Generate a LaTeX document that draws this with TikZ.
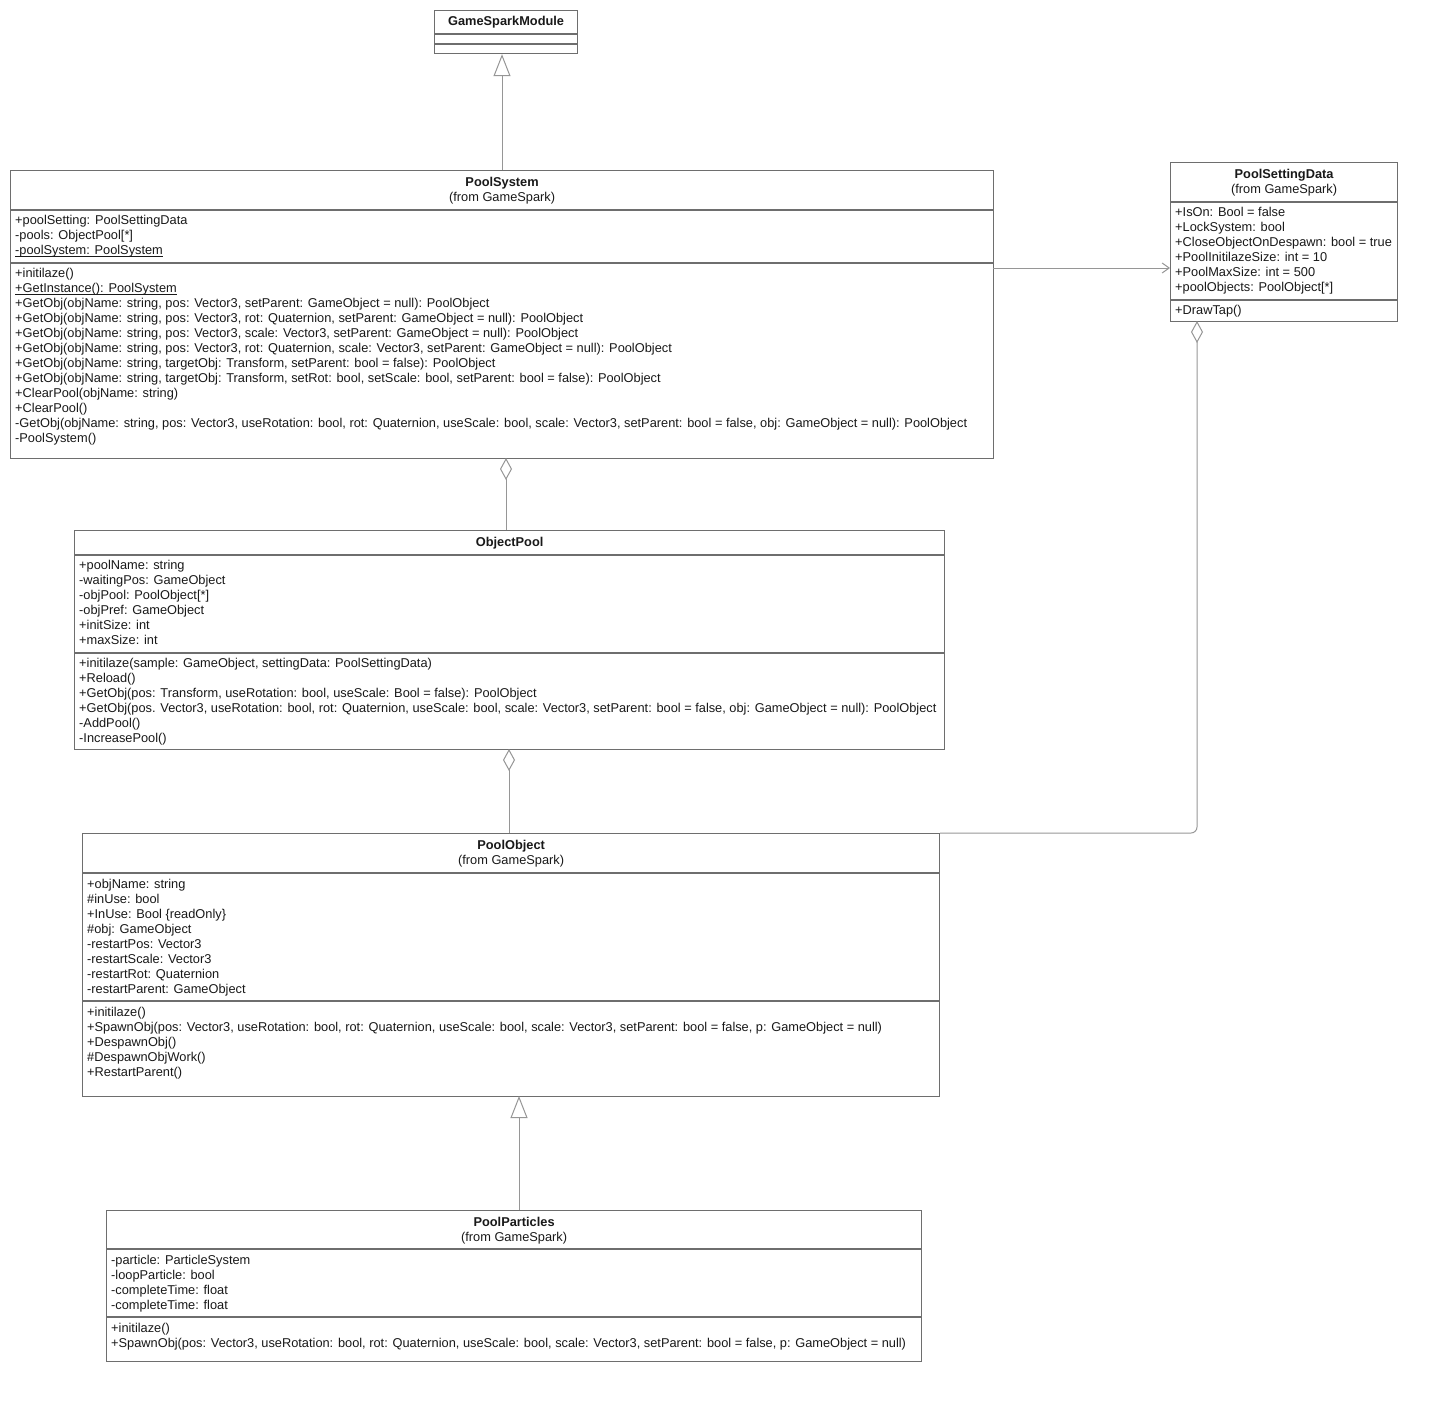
\documentclass[tikz,border=0pt]{standalone}
\usepackage{fontspec}
\setmainfont{Liberation Sans}
\usetikzlibrary{arrows.meta,positioning}
\definecolor{BoxLine}{RGB}{110,110,110}
\definecolor{LinkLine}{RGB}{150,150,150}
\definecolor{TextGray}{RGB}{25,25,25}

% static members are underlined close to the baseline
\newcommand{\staticmem}[1]{\setbox0\hbox{#1}\rlap{\rule[-1.6pt]{\wd0}{0.7pt}}\box0}

\tikzset{
	classbox/.style={draw=BoxLine, line width=1.2pt, fill=white, anchor=north west, inner sep=0pt},
	classname/.style={font=\fontsize{12.8}{15}\selectfont, align=center, text=TextGray, inner sep=0pt},
	members/.style={font=\fontsize{12.8}{15}\selectfont, align=left, anchor=north west, text=TextGray, inner sep=0pt},
	sepline/.style={draw=BoxLine, line width=1.2pt},
	link/.style={draw=LinkLine, line width=1pt},
	realize/.style={link, -{Triangle[open, length=22pt, width=17pt, fill=white]}},
	aggr/.style={link, {Diamond[open, length=22pt, width=12pt, fill=white]}-},
	assoc/.style={link, -{Straight Barb[length=7pt, width=10pt]}}
}

\begin{document}
\begin{tikzpicture}[x=1pt, y=-1pt]
	\useasboundingbox (0,0) rectangle (1437,1402);

	% class boxes
	\node[classbox, minimum width=143pt, minimum height=43pt] (gsm) at (434,10) {};
	\node[classbox, minimum width=983pt, minimum height=288pt] (psys) at (10,170) {};
	\node[classbox, minimum width=227pt, minimum height=159pt] (psd) at (1170,162) {};
	\node[classbox, minimum width=870pt, minimum height=219pt] (opool) at (74,530) {};
	\node[classbox, minimum width=857pt, minimum height=263pt] (pobj) at (82,833) {};
	\node[classbox, minimum width=815pt, minimum height=151pt] (ppart) at (106,1210) {};

	% compartments
	\draw[sepline] (gsm.west |- 0,34) -- (gsm.east |- 0,34);
	\draw[sepline] (gsm.west |- 0,44) -- (gsm.east |- 0,44);
	\draw[sepline] (psys.west |- 0,210) -- (psys.east |- 0,210);
	\draw[sepline] (psys.west |- 0,263) -- (psys.east |- 0,263);
	\draw[sepline] (psd.west |- 0,202) -- (psd.east |- 0,202);
	\draw[sepline] (psd.west |- 0,300) -- (psd.east |- 0,300);
	\draw[sepline] (opool.west |- 0,555) -- (opool.east |- 0,555);
	\draw[sepline] (opool.west |- 0,653) -- (opool.east |- 0,653);
	\draw[sepline] (pobj.west |- 0,873) -- (pobj.east |- 0,873);
	\draw[sepline] (pobj.west |- 0,1001) -- (pobj.east |- 0,1001);
	\draw[sepline] (ppart.west |- 0,1249) -- (ppart.east |- 0,1249);
	\draw[sepline] (ppart.west |- 0,1317) -- (ppart.east |- 0,1317);

	% names
	\node[classname] (gsmName) at (gsm.north |- 0,22.5) {\textbf{GameSparkModule}};
	\node[classname] (psysName) at (psys.north |- 0,191) {\textbf{PoolSystem}\\(from GameSpark)};
	\node[classname] (psdName) at (psd.north |- 0,183) {\textbf{PoolSettingData}\\(from GameSpark)};
	\node[classname] (opoolName) at (opool.north |- 0,543) {\textbf{ObjectPool}};
	\node[classname] (pobjName) at (pobj.north |- 0,854) {\textbf{PoolObject}\\(from GameSpark)};
	\node[classname] (ppartName) at (ppart.north |- 0,1230.5) {\textbf{PoolParticles}\\(from GameSpark)};

	% members
	\node[members] (psysAttr) at (15,215.5) {+poolSetting: PoolSettingData\\
		-pools: ObjectPool[*]\\
		\staticmem{-poolSystem: PoolSystem}};
	\node[members] (psysOps) at (15,268.5) {+initilaze()\\
		\staticmem{+GetInstance(): PoolSystem}\\
		+GetObj(objName: string, pos: Vector3, setParent: GameObject = null): PoolObject\\
		+GetObj(objName: string, pos: Vector3, rot: Quaternion, setParent: GameObject = null): PoolObject\\
		+GetObj(objName: string, pos: Vector3, scale: Vector3, setParent: GameObject = null): PoolObject\\
		+GetObj(objName: string, pos: Vector3, rot: Quaternion, scale: Vector3, setParent: GameObject = null): PoolObject\\
		+GetObj(objName: string, targetObj: Transform, setParent: bool = false): PoolObject\\
		+GetObj(objName: string, targetObj: Transform, setRot: bool, setScale: bool, setParent: bool = false): PoolObject\\
		+ClearPool(objName: string)\\
		+ClearPool()\\
		-GetObj(objName: string, pos: Vector3, useRotation: bool, rot: Quaternion, useScale: bool, scale: Vector3, setParent: bool = false, obj: GameObject = null): PoolObject\\
		-PoolSystem()};
	\node[members] (psdAttr) at (1175,207.5) {+IsOn: Bool = false\\
		+LockSystem: bool\\
		+CloseObjectOnDespawn: bool = true\\
		+PoolInitilazeSize: int = 10\\
		+PoolMaxSize: int = 500\\
		+poolObjects: PoolObject[*]};
	\node[members] (psdOps) at (1175,305.5) {+DrawTap()};
	\node[members] (opoolAttr) at (79,560.5) {+poolName: string\\
		-waitingPos: GameObject\\
		-objPool: PoolObject[*]\\
		-objPref: GameObject\\
		+initSize: int\\
		+maxSize: int};
	\node[members] (opoolOps) at (79,658.5) {+initilaze(sample: GameObject, settingData: PoolSettingData)\\
		+Reload()\\
		+GetObj(pos: Transform, useRotation: bool, useScale: Bool = false): PoolObject\\
		+GetObj(pos. Vector3, useRotation: bool, rot: Quaternion, useScale: bool, scale: Vector3, setParent: bool = false, obj: GameObject = null): PoolObject\\
		-AddPool()\\
		-IncreasePool()};
	\node[members] (pobjAttr) at (87,879.5) {+objName: string\\
		\#inUse: bool\\
		+InUse: Bool \{readOnly\}\\
		\#obj: GameObject\\
		-restartPos: Vector3\\
		-restartScale: Vector3\\
		-restartRot: Quaternion\\
		-restartParent: GameObject};
	\node[members] (pobjOps) at (87,1007.5) {+initilaze()\\
		+SpawnObj(pos: Vector3, useRotation: bool, rot: Quaternion, useScale: bool, scale: Vector3, setParent: bool = false, p: GameObject = null)\\
		+DespawnObj()\\
		\#DespawnObjWork()\\
		+RestartParent()};
	\node[members] (ppartAttr) at (111,1255.5) {-particle: ParticleSystem\\
		-loopParticle: bool\\
		-completeTime: float\\
		-completeTime: float};
	\node[members] (ppartOps) at (111,1323.5) {+initilaze()\\
		+SpawnObj(pos: Vector3, useRotation: bool, rot: Quaternion, useScale: bool, scale: Vector3, setParent: bool = false, p: GameObject = null)};

	% connector ends
	\coordinate (psysTop) at (502,170);
	\coordinate (psysBot) at (506,458);
	\coordinate (psysDep) at (993,268);
	\coordinate (psdDep) at (1170,268);
	\coordinate (psdBot) at (1197,321);
	\coordinate (opoolBot) at (509,749);
	\coordinate (pobjBot) at (519,1096);

	% connectors
	\draw[realize] (psysTop) -- (psysTop |- gsm.south);
	\draw[assoc] (psysDep) -- (psdDep);
	\draw[aggr] (psysBot) -- (psysBot |- opool.north);
	\draw[aggr] (opoolBot) -- (opoolBot |- pobj.north);
	\draw[aggr, rounded corners=6pt] (psdBot) |- (pobj.north east);
	\draw[realize] (pobjBot |- ppart.north) -- (pobjBot);
\end{tikzpicture}
\end{document}
